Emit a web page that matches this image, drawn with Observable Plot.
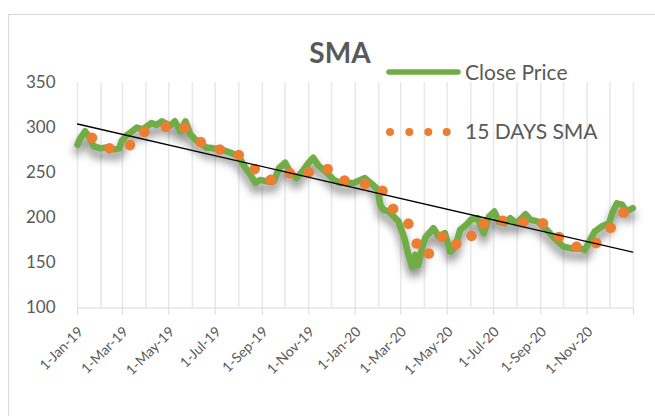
<!DOCTYPE html>
<html>
<head>
<meta charset="utf-8">
<script src="https://cdn.jsdelivr.net/npm/d3@7"></script>
<script src="https://cdn.jsdelivr.net/npm/@observablehq/plot@0.6"></script>
<style>
  html, body { margin: 0; padding: 0; background: #fff; }
  #wrap { position: relative; width: 655px; height: 416px; overflow: hidden; background: #fff; font-family: Lato, "Open Sans", sans-serif; }
  #frame { position: absolute; left: 8px; top: 14px; width: 720px; height: 520px; border: 1px solid #d9d9d9; box-sizing: border-box; }
  #chart { position: absolute; left: 0; top: 0; }
  #overlay { position: absolute; left: 0; top: 0; pointer-events: none; }
</style>
</head>
<body>
<div id="wrap">
  <div id="frame"></div>
  <div id="chart"></div>
  <svg id="overlay" width="655" height="416"></svg>
</div>
<script>
// ---------- data ----------
const chartTitle = "SMA";
const seriesNames = ["Close Price", "15 DAYS SMA"];
const seriesColors = ["#70ad47", "#ed7d31"];

const closeDates = ["2019-01-01","2019-01-04","2019-01-11","2019-01-16","2019-01-22","2019-01-31","2019-02-08","2019-02-18","2019-02-25","2019-02-28","2019-03-06","2019-03-11","2019-03-20","2019-03-28","2019-04-08","2019-04-15","2019-04-22","2019-05-03","2019-05-09","2019-05-16","2019-05-23","2019-05-29","2019-06-07","2019-06-20","2019-06-24","2019-07-08","2019-07-22","2019-08-01","2019-08-07","2019-08-16","2019-08-23","2019-08-29","2019-09-06","2019-09-16","2019-09-23","2019-10-01","2019-10-08","2019-10-16","2019-10-25","2019-11-01","2019-11-07","2019-11-14","2019-11-25","2019-12-04","2019-12-12","2019-12-30","2020-01-14","2020-01-24","2020-01-31","2020-02-03","2020-02-07","2020-02-14","2020-02-27","2020-03-06","2020-03-11","2020-03-16","2020-03-20","2020-03-24","2020-03-30","2020-04-03","2020-04-13","2020-04-20","2020-04-28","2020-05-05","2020-05-12","2020-05-18","2020-05-26","2020-06-01","2020-06-10","2020-06-18","2020-06-25","2020-07-02","2020-07-08","2020-07-16","2020-07-23","2020-07-31","2020-08-12","2020-08-18","2020-08-28","2020-09-09","2020-09-21","2020-10-01","2020-10-12","2020-10-23","2020-10-29","2020-11-05","2020-11-11","2020-11-20","2020-11-30","2020-12-04","2020-12-10","2020-12-17","2020-12-23","2020-12-31"];
const closeValues = [281,287,296,290,279.5,277,278,276,277,285,291,294,300,298,305,303,307,302,307,296,307,293,285,277.6,277.6,275.8,272,268,259,248,238.6,242,240.5,240.5,255,261,250,244,253,261,266.5,257.6,250,242,238.6,238.6,244,236.8,231,214.5,209,207,196,177,159,145.7,159,147.6,170,179,188.4,179,183,162.4,168,186.6,192,197.8,199.6,183,201.4,207,195.5,194,199.6,194,204,198,196,186.6,175.5,168,166,166,164.3,175.5,184.7,190.3,194,205,216,214.5,207,210.7];

const smaDates = ["2019-01-20","2019-02-12","2019-03-11","2019-03-30","2019-04-27","2019-05-22","2019-06-12","2019-07-07","2019-08-01","2019-08-22","2019-09-12","2019-10-07","2019-11-01","2019-11-26","2019-12-18","2020-01-14","2020-02-06","2020-02-20","2020-03-11","2020-03-22","2020-04-07","2020-04-24","2020-05-13","2020-06-02","2020-06-18","2020-07-13","2020-08-09","2020-09-04","2020-09-25","2020-10-18","2020-11-13","2020-12-02","2020-12-19"];
const smaValues = [288.7,277,280.6,295.5,301,300,284,275.8,269.5,254,242,249.7,250.5,254,241.4,237.8,230,210,193.5,171.5,160.5,179,171,180,193.5,196.8,195,194,178.7,168,172,189,206];

// linear trendline of the close price, read at its two ends
const trendDates = ["2019-01-01","2020-12-31"];
const trendValues = [304,162];

const yTicks = [100,150,200,250,300,350];
const xTickLabels = ["1-Jan-19","1-Mar-19","1-May-19","1-Jul-19","1-Sep-19","1-Nov-19","1-Jan-20","1-Mar-20","1-May-20","1-Jul-20","1-Sep-20","1-Nov-20"];
const xDomain = ["2019-01-01","2021-01-01"];

// ---------- tables ----------
const parseDay = d3.utcParse("%Y-%m-%d");
const parseLabel = d3.utcParse("%d-%b-%y");
const fmtLabel = d3.utcFormat("%-d-%b-%y");
const closeTable = closeDates.map((d, i) => ({date: parseDay(d), value: closeValues[i]}));
const smaTable = smaDates.map((d, i) => ({date: parseDay(d), value: smaValues[i]}));
const trendTable = trendDates.map((d, i) => ({date: parseDay(d), value: trendValues[i]}));
const labelDates = xTickLabels.map(parseLabel);
const domain = xDomain.map(parseDay);
const tickDates = [...labelDates, domain[1]];
const monthLines = d3.utcMonth.range(domain[0], d3.utcDay.offset(domain[1], 1));

const gray = "#595959";
const chart = Plot.plot({
  width: 655,
  height: 416,
  marginLeft: 77,
  marginRight: 22,
  marginTop: 82,
  marginBottom: 108.5,
  style: {background: "transparent", fontFamily: "Lato, 'Open Sans', sans-serif", color: gray, overflow: "visible"},
  x: {type: "utc", domain, label: null},
  y: {domain: [100, 350], label: null},
  marks: [
    Plot.ruleX(monthLines, {x: d => d, stroke: "#e9e9e9", strokeWidth: 1.6}),
    Plot.ruleY([100], {stroke: "#d9d9d9", strokeWidth: 1}),
    Plot.axisX({ticks: tickDates, tickFormat: () => "", tickSize: 7, stroke: "#d9d9d9", label: null}),
    Plot.text(labelDates, {x: d => d, frameAnchor: "bottom", text: d => fmtLabel(d), rotate: -45,
      textAnchor: "end", lineAnchor: "bottom", dx: 6.5, dy: 24.5, fontSize: 14, fill: gray}),
    Plot.axisY({ticks: yTicks, tickSize: 0, tickPadding: 22, fontSize: 17, fill: gray, label: null}),
    // shadow of the close price line (first line mark)
    Plot.line(closeTable, {x: "date", y: "value", stroke: "#000", strokeOpacity: 0.45, strokeWidth: 7,
      strokeLinejoin: "round", strokeLinecap: "round", dy: 7}),
    Plot.line(closeTable, {x: "date", y: "value", stroke: seriesColors[0], strokeWidth: 6.5,
      strokeLinejoin: "round", strokeLinecap: "round"}),
    Plot.dot(smaTable, {x: "date", y: "value", r: 5.3, fill: seriesColors[1], stroke: "none"}),
    Plot.line(trendTable, {x: "date", y: "value", stroke: "#000", strokeWidth: 1.3})
  ]
});
document.getElementById("chart").appendChild(chart);

// soften the shadow of the close price line
const lineGroups = d3.select(chart).selectAll('g[aria-label="line"]').nodes();
if (lineGroups.length > 1) d3.select(lineGroups[0]).style("filter", "blur(4px)");

// ---------- title and legend ----------
const ov = d3.select("#overlay");
ov.append("text").attr("x", 340).attr("y", 63.3).attr("text-anchor", "middle")
  .attr("font-family", "Lato, 'Open Sans', sans-serif").attr("font-weight", 700).attr("font-size", 28)
  .attr("fill", gray).text(chartTitle);

ov.append("line").attr("x1", 389).attr("x2", 458).attr("y1", 72).attr("y2", 72)
  .attr("stroke", seriesColors[0]).attr("stroke-width", 5.5).attr("stroke-linecap", "round");
ov.append("text").attr("x", 465).attr("y", 79.5).attr("font-family", "Lato, 'Open Sans', sans-serif")
  .attr("font-size", 21).attr("fill", gray).text(seriesNames[0]);

[390, 409.3, 428.3, 446.7].forEach(cx => {
  ov.append("circle").attr("cx", cx).attr("cy", 132).attr("r", 4).attr("fill", seriesColors[1]);
});
ov.append("text").attr("x", 465).attr("y", 138.5).attr("font-family", "Lato, 'Open Sans', sans-serif")
  .attr("font-size", 21).attr("fill", gray).text(seriesNames[1]);
</script>
</body>
</html>
